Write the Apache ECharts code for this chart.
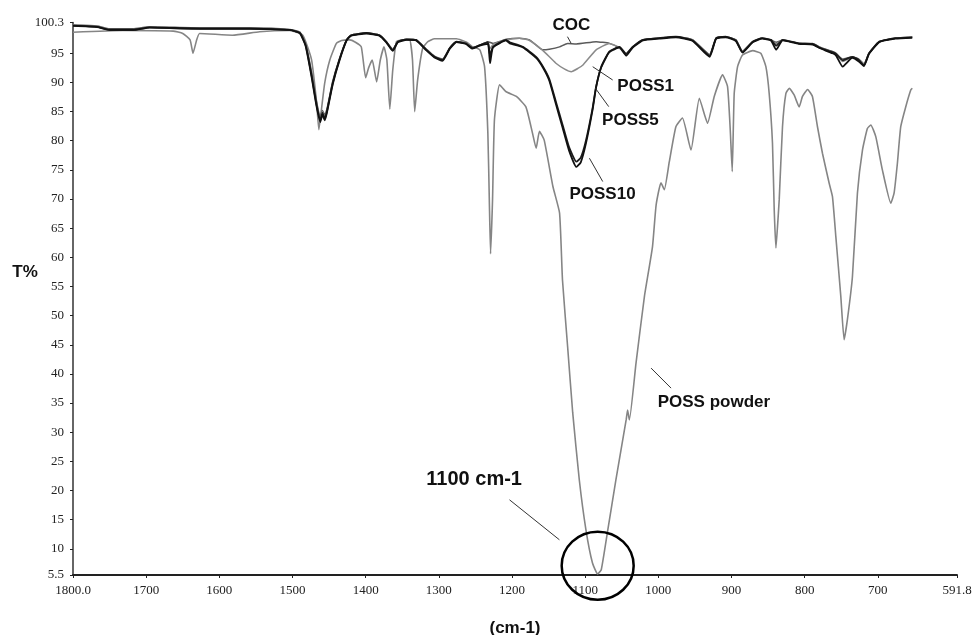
<!DOCTYPE html>
<html><head><meta charset="utf-8">
<script src="https://cdn.jsdelivr.net/npm/echarts@6/dist/echarts.min.js"></script>
<style>html,body{margin:0;padding:0;background:#fff}#c{width:973px;height:635px}</style>
</head><body><div id="c"></div>
<script>
// ---- tick values ----
const xTicks = [1800, 1700, 1600, 1500, 1400, 1300, 1200, 1100, 1000, 900, 800, 700, 591.8];
const yTicks = [5.5, 10, 15, 20, 25, 30, 35, 40, 45, 50, 55, 60, 65, 70, 75, 80, 85, 90, 95, 100.3];

// ---- series: [wavenumber (cm-1), T%] ----
const cocData = [[1800,99.85],[1767,99.7],[1750,99.2],[1718,99.2],[1695,99.55],[1627,99.35],[1558,99.35],[1504,99.1],[1490,98.65],[1482,96.6],[1474,91.8],[1467,86.6],[1462,84.2],[1459,85.2],[1456,84.4],[1453,85.4],[1445,90.2],[1436,94.0],[1426,97.3],[1420,98.1],[1399,98.5],[1381,98.1],[1372,97.0],[1363,95.7],[1356,97.0],[1344,97.4],[1331,97.3],[1317,95.7],[1306,94.5],[1295,94.0],[1285,95.9],[1276,97.0],[1263,96.7],[1254,96.0],[1244,96.4],[1233,97.0],[1226,96.7],[1208,97.4],[1190,97.6],[1176,97.3],[1158,95.6],[1149,95.7],[1135,96.1],[1124,96.7],[1112,96.6],[1085,97.0],[1067,96.7],[1053,95.9],[1044,94.9],[1035,96.1],[1021,97.3],[999,97.6],[976,97.85],[953,97.3],[930,94.8],[921,97.6],[908,97.85],[894,97.3],[885,95.4],[871,97.0],[858,97.6],[846,97.3],[839,96.9],[830,97.3],[808,96.7],[789,96.7],[780,96.1],[762,95.3],[757,95.0],[748,94.0],[735,94.4],[726,94.0],[719,93.2],[712,95.0],[698,97.0],[676,97.6],[653,97.85]];

const poss1Data = [[1800,99.8],[1767,99.6],[1750,99.1],[1718,99.1],[1695,99.5],[1627,99.3],[1558,99.3],[1504,99.05],[1490,98.6],[1482,96.5],[1474,91.6],[1467,86.4],[1462,83.9],[1459,85.0],[1456,84.1],[1453,85.2],[1445,90.0],[1436,93.9],[1426,97.3],[1420,98.1],[1399,98.5],[1381,98.1],[1372,97.0],[1363,95.6],[1356,97.0],[1344,97.4],[1331,97.3],[1317,95.6],[1306,94.4],[1295,93.9],[1285,95.9],[1276,97.0],[1263,96.7],[1254,95.9],[1244,96.4],[1233,96.9],[1230,95.8],[1226,96.5],[1208,97.3],[1190,97.6],[1176,97.2],[1158,95.5],[1140,93.3],[1128,92.3],[1119,91.85],[1110,92.4],[1103,93.0],[1085,95.6],[1067,96.7],[1053,96.0],[1044,94.6],[1035,96.1],[1021,97.3],[999,97.6],[976,97.85],[953,97.3],[930,94.7],[921,97.6],[908,97.85],[894,97.3],[885,95.3],[871,97.0],[858,97.6],[846,97.3],[839,96.6],[830,97.3],[808,96.7],[789,96.6],[780,96.0],[762,95.2],[757,94.9],[748,93.6],[735,94.3],[726,93.9],[719,93.1],[712,95.0],[698,97.0],[676,97.6],[653,97.8]];

const poss5Data = [[1800,99.7],[1767,99.5],[1750,99.0],[1718,99.0],[1695,99.4],[1627,99.2],[1558,99.2],[1504,99.0],[1490,98.5],[1482,96.4],[1474,91.3],[1467,86.1],[1462,83.6],[1459,84.8],[1456,83.8],[1453,85.0],[1445,89.9],[1436,93.85],[1426,97.3],[1420,98.1],[1399,98.5],[1381,98.1],[1372,97.0],[1363,95.5],[1356,97.0],[1344,97.4],[1331,97.3],[1317,95.6],[1306,94.4],[1295,93.85],[1285,95.9],[1276,97.0],[1263,96.7],[1254,95.9],[1244,96.4],[1233,96.9],[1230,94.6],[1226,96.1],[1208,97.3],[1203,96.9],[1185,96.1],[1167,94.4],[1158,92.8],[1149,90.6],[1140,86.7],[1131,82.8],[1122,78.9],[1112,76.4],[1106,77.1],[1099,80.0],[1090,85.5],[1085,89.3],[1078,92.7],[1067,95.3],[1053,96.1],[1044,94.9],[1035,96.1],[1021,97.3],[999,97.6],[976,97.85],[953,97.2],[930,94.6],[921,97.6],[908,97.85],[894,97.2],[885,95.2],[871,97.0],[858,97.6],[846,97.3],[839,96.3],[830,97.3],[808,96.7],[789,96.6],[780,96.0],[762,95.2],[757,94.9],[748,93.8],[735,94.4],[726,93.85],[719,92.9],[712,95.0],[698,97.0],[676,97.6],[653,97.7]];

const poss10Data = [[1800,99.75],[1767,99.55],[1750,99.05],[1718,99.05],[1695,99.45],[1627,99.25],[1558,99.25],[1504,99.0],[1490,98.45],[1482,96.2],[1474,91.0],[1467,85.8],[1462,83.2],[1459,84.5],[1456,83.5],[1453,84.8],[1445,89.7],[1436,93.7],[1426,97.2],[1420,98.0],[1399,98.4],[1381,98.0],[1372,96.9],[1363,95.4],[1356,96.9],[1344,97.3],[1331,97.2],[1317,95.5],[1306,94.3],[1295,93.7],[1285,95.8],[1276,96.9],[1263,96.6],[1254,95.8],[1244,96.3],[1233,96.6],[1230,93.3],[1226,96.0],[1208,97.2],[1203,96.7],[1185,96.0],[1167,94.2],[1158,92.6],[1149,90.3],[1140,86.3],[1131,82.3],[1122,78.3],[1112,75.5],[1106,76.3],[1099,79.5],[1090,85.2],[1085,89.2],[1078,92.6],[1067,95.2],[1053,96.0],[1044,94.6],[1035,96.0],[1021,97.2],[999,97.5],[976,97.75],[953,97.1],[930,94.4],[921,97.5],[908,97.75],[894,97.1],[885,95.1],[871,96.9],[858,97.5],[846,97.2],[839,95.6],[830,97.2],[808,96.6],[789,96.5],[780,95.9],[762,95.0],[757,94.6],[748,92.7],[735,94.2],[726,93.6],[719,92.8],[712,94.9],[698,96.9],[676,97.5],[653,97.7]];

const powderData = [[1800,98.6],[1732,98.9],[1663,98.8],[1650,98.4],[1640,97.3],[1636,95.0],[1631,97.3],[1627,98.4],[1582,98.1],[1545,98.7],[1504,98.9],[1486,98.1],[1474,93.9],[1467,86.5],[1464,81.9],[1460.5,85.3],[1456,89.9],[1449,93.85],[1440,96.7],[1433,97.2],[1422,97.3],[1414,96.9],[1406,96.1],[1400,90.8],[1396,92.5],[1391,93.85],[1385,90.1],[1380,93.85],[1375,96.1],[1371,93.85],[1367,85.45],[1363,92.1],[1358,97.0],[1350,97.3],[1340,97.3],[1336,93.85],[1333,85.0],[1329,90.4],[1322,95.9],[1315,97.0],[1306,97.5],[1276,97.5],[1262,96.9],[1254,96.1],[1244,95.6],[1237.5,92.7],[1233,81.3],[1231,69.85],[1229.3,60.6],[1226.6,69.85],[1224,83.6],[1217,89.6],[1208,88.4],[1194,87.6],[1181,85.8],[1172,81.3],[1167,78.7],[1162.5,81.6],[1156,80.1],[1144,72.1],[1135,67.6],[1131,56.1],[1124,44.7],[1117,33.3],[1108,21.8],[1099,13.3],[1090,7.55],[1083,5.7],[1078,6.4],[1069,13.3],[1058,21.8],[1044,32.1],[1042,33.8],[1039.6,32.1],[1030.5,41.85],[1019,53.3],[1008,61.8],[1003,69.0],[996.4,72.8],[991.8,71.6],[985,76.4],[976,82.4],[967,83.9],[955.4,78.4],[944,87.3],[932.7,83.0],[923.6,87.6],[912.2,91.3],[905.4,89.3],[901.7,81.85],[899,74.7],[896.3,88.1],[891.7,92.7],[885,94.7],[871,95.45],[860,95.0],[853,92.7],[848.5,88.1],[844,79.6],[841.6,68.1],[839.3,61.6],[837.1,65.3],[834.8,69.85],[830.3,82.4],[825.7,88.1],[821,89.0],[814.4,87.85],[807.5,85.8],[803,87.6],[796,88.8],[789.4,87.6],[782.5,82.4],[775.7,77.85],[766.5,72.7],[762,70.4],[757.4,63.55],[750.6,53.3],[746.1,45.85],[741.6,49.3],[734.7,56.7],[727.9,71.0],[721,78.4],[714.3,82.1],[709.6,82.7],[702.8,80.7],[693.8,75.0],[682.3,69.3],[677.8,71.0],[673.3,76.1],[668.7,82.4],[661.9,85.8],[655,88.7],[652.9,89.0]];

// ---- annotations (anchored in data coordinates) ----
const labels = [
  {text:'COC', at:[1118.8, 99.85], align:'center', size:17},
  {text:'POSS1', at:[1056.0, 89.3], align:'left', size:17},
  {text:'POSS5', at:[1076.9, 83.48], align:'left', size:17},
  {text:'POSS10', at:[1121.5, 70.88], align:'left', size:17},
  {text:'POSS powder', at:[1000.9, 35.2], align:'left', size:17},
  {text:'1100 cm-1', at:[1317.1, 21.83], align:'left', size:20}
];
const leaders = [
  [[1124.2, 97.85],[1119.2, 96.72]],
  [[1089.7, 92.70],[1062.4, 90.42]],
  [[1086.0, 89.0],[1067.8, 85.85]],
  [[1094.2, 77.0],[1076.0, 73.0]],
  [[1009.9, 40.99],[982.6, 37.56]],
  [[1203.4, 18.40],[1135.2, 11.54]]
];
const circleCenter = [1082.9, 7.09];

const chart = echarts.init(document.getElementById('c'), null, {renderer:'canvas'});
const tickFont = {fontFamily:'Liberation Serif', fontSize:13, color:'#222'};
function line(name, data, color, width){
  return {name, type:'line', data, showSymbol:false, smooth:0.15, z: 3,
    lineStyle:{color, width}, itemStyle:{color}, animation:false};
}
chart.setOption({
  animation:false,
  backgroundColor:'#fff',
  grid:{left:73, right:16, top:22.4, bottom:60, containLabel:false, outerBoundsMode:'none'},
  xAxis:{type:'value', inverse:true, min:591.8, max:1800,
    name:'(cm-1)', nameLocation:'middle', nameGap:45,
    nameTextStyle:{fontFamily:'Liberation Sans', fontWeight:'bold', fontSize:17, color:'#111'},
    axisLine:{show:true, lineStyle:{color:'#222', width:2}},
    axisTick:{show:true, customValues:xTicks, length:3, lineStyle:{color:'#222'}},
    axisLabel:Object.assign({customValues:xTicks, margin:9,
      formatter:v => (v===1800 ? '1800.0' : String(v))}, tickFont),
    splitLine:{show:false}},
  yAxis:{type:'value', min:5.5, max:100.3,
    axisLine:{show:true, lineStyle:{color:'#333', width:1.5}},
    axisTick:{show:true, customValues:yTicks, length:3, lineStyle:{color:'#222'}},
    axisLabel:Object.assign({customValues:yTicks, margin:9, formatter:v => String(v)}, tickFont),
    splitLine:{show:false}},
  series:[
    line('POSS powder', powderData, '#858585', 1.6),
    line('COC', cocData, '#5a5a5a', 1.5),
    line('POSS1', poss1Data, '#8a8a8a', 1.5),
    line('POSS5', poss5Data, '#1e1e1e', 1.8),
    line('POSS10', poss10Data, '#111111', 1.8)
  ]
});

const P = p => chart.convertToPixel({gridIndex:0}, p);
const g = [];
labels.forEach(l => {
  const p = P(l.at);
  g.push({type:'text', x:p[0], y:p[1], z:10, style:{text:l.text,
    font:'bold ' + l.size + 'px "Liberation Sans", Arial, sans-serif', fill:'#111',
    textAlign:l.align, textVerticalAlign:'middle'}});
});
leaders.forEach(s => {
  const a = P(s[0]), b = P(s[1]);
  g.push({type:'line', z:10, shape:{x1:a[0], y1:a[1], x2:b[0], y2:b[1]}, style:{stroke:'#333', lineWidth:1}});
});
const c = P(circleCenter);
g.push({type:'ellipse', z:10, shape:{cx:c[0], cy:c[1], rx:36, ry:34}, style:{fill:'none', stroke:'#000', lineWidth:2.5}});
const t = P([1800, 57.5]);
g.push({type:'text', x:t[0]-48, y:t[1], z:10, style:{text:'T%', font:'bold 17px "Liberation Sans", Arial, sans-serif', fill:'#111', textAlign:'center', textVerticalAlign:'middle'}});
chart.setOption({graphic:g});
</script></body></html>
